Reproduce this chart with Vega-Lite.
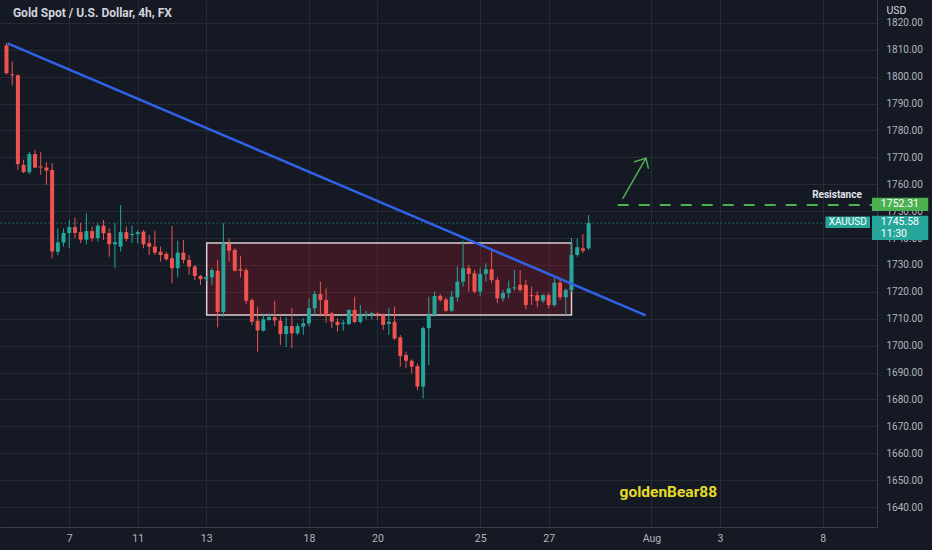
{
  "$schema": "https://vega.github.io/schema/vega-lite/v6.json",
  "width": 877,
  "height": 527,
  "autosize": {"type": "none"},
  "padding": {"left": 0, "top": 0, "right": 55, "bottom": 23},
  "background": "#151924",
  "datasets": {
    "candles": [
      {"x":0,"o":1811.6,"h":1812.5,"l":1800.8,"c":1801.3},
      {"x":1,"o":1800.9,"h":1805.6,"l":1796.7,"c":1800.5},
      {"x":2,"o":1800.5,"h":1800.8,"l":1765.3,"c":1767.5},
      {"x":3,"o":1767.2,"h":1769.1,"l":1764.1,"c":1764.5},
      {"x":4,"o":1764.5,"h":1772.0,"l":1763.8,"c":1771.2},
      {"x":5,"o":1771.2,"h":1772.8,"l":1766.0,"c":1766.2},
      {"x":6,"o":1766.6,"h":1771.9,"l":1763.5,"c":1766.2},
      {"x":7,"o":1766.2,"h":1768.2,"l":1759.8,"c":1765.1},
      {"x":8,"o":1765.3,"h":1767.8,"l":1732.5,"c":1735.0},
      {"x":9,"o":1734.9,"h":1743.6,"l":1733.7,"c":1738.4},
      {"x":10,"o":1738.4,"h":1743.6,"l":1736.8,"c":1741.9},
      {"x":11,"o":1741.9,"h":1746.7,"l":1736.2,"c":1744.1},
      {"x":12,"o":1744.1,"h":1747.6,"l":1740.0,"c":1741.9},
      {"x":13,"o":1742.2,"h":1745.7,"l":1738.1,"c":1739.4},
      {"x":14,"o":1739.4,"h":1749.2,"l":1737.7,"c":1742.6},
      {"x":15,"o":1742.6,"h":1744.3,"l":1738.7,"c":1740.0},
      {"x":16,"o":1740.0,"h":1745.5,"l":1738.7,"c":1744.6},
      {"x":17,"o":1744.6,"h":1746.7,"l":1739.3,"c":1741.8},
      {"x":18,"o":1741.9,"h":1743.6,"l":1733.1,"c":1737.7},
      {"x":19,"o":1737.7,"h":1745.5,"l":1728.8,"c":1738.5},
      {"x":20,"o":1736.8,"h":1752.3,"l":1735.0,"c":1742.2},
      {"x":21,"o":1742.2,"h":1744.3,"l":1738.7,"c":1739.7},
      {"x":22,"o":1741.1,"h":1744.6,"l":1738.1,"c":1741.5},
      {"x":23,"o":1741.5,"h":1743.0,"l":1738.1,"c":1742.2},
      {"x":24,"o":1742.4,"h":1743.0,"l":1736.2,"c":1737.7},
      {"x":25,"o":1738.1,"h":1741.1,"l":1733.7,"c":1736.8},
      {"x":26,"o":1736.8,"h":1742.8,"l":1733.7,"c":1734.6},
      {"x":27,"o":1734.9,"h":1736.8,"l":1731.2,"c":1733.7},
      {"x":28,"o":1734.1,"h":1734.9,"l":1731.6,"c":1732.1},
      {"x":29,"o":1732.5,"h":1744.5,"l":1723.2,"c":1728.8},
      {"x":30,"o":1728.8,"h":1739.0,"l":1725.4,"c":1734.6},
      {"x":31,"o":1734.6,"h":1739.3,"l":1730.6,"c":1731.9},
      {"x":32,"o":1731.9,"h":1733.7,"l":1726.3,"c":1729.4},
      {"x":33,"o":1729.4,"h":1730.0,"l":1724.4,"c":1725.9},
      {"x":34,"o":1725.9,"h":1726.3,"l":1722.6,"c":1724.7},
      {"x":35,"o":1724.7,"h":1725.9,"l":1723.8,"c":1725.5},
      {"x":36,"o":1725.4,"h":1728.8,"l":1722.6,"c":1728.1},
      {"x":37,"o":1727.9,"h":1731.9,"l":1706.8,"c":1712.5},
      {"x":38,"o":1712.5,"h":1745.5,"l":1710.8,"c":1738.1},
      {"x":39,"o":1737.8,"h":1739.9,"l":1731.2,"c":1735.3},
      {"x":40,"o":1735.6,"h":1736.2,"l":1727.5,"c":1727.9},
      {"x":41,"o":1728.4,"h":1733.4,"l":1725.4,"c":1727.9},
      {"x":42,"o":1728.1,"h":1728.8,"l":1715.5,"c":1716.7},
      {"x":43,"o":1716.9,"h":1717.6,"l":1707.7,"c":1708.9},
      {"x":44,"o":1709.3,"h":1714.5,"l":1697.8,"c":1705.6},
      {"x":45,"o":1705.6,"h":1712.0,"l":1705.2,"c":1709.8},
      {"x":46,"o":1709.6,"h":1712.0,"l":1709.3,"c":1710.6},
      {"x":47,"o":1710.6,"h":1716.7,"l":1707.3,"c":1709.4},
      {"x":48,"o":1709.3,"h":1710.8,"l":1700.3,"c":1704.3},
      {"x":49,"o":1704.3,"h":1710.6,"l":1699.6,"c":1707.3},
      {"x":50,"o":1707.3,"h":1713.9,"l":1699.0,"c":1704.6},
      {"x":51,"o":1704.6,"h":1708.3,"l":1704.0,"c":1707.3},
      {"x":52,"o":1707.1,"h":1710.2,"l":1704.0,"c":1708.3},
      {"x":53,"o":1708.3,"h":1717.6,"l":1707.1,"c":1713.9},
      {"x":54,"o":1713.9,"h":1720.4,"l":1711.4,"c":1719.2},
      {"x":55,"o":1719.2,"h":1723.8,"l":1710.8,"c":1717.0},
      {"x":56,"o":1717.0,"h":1721.3,"l":1708.5,"c":1711.4},
      {"x":57,"o":1712.0,"h":1712.6,"l":1706.5,"c":1708.9},
      {"x":58,"o":1708.9,"h":1710.2,"l":1705.2,"c":1707.7},
      {"x":59,"o":1708.1,"h":1709.6,"l":1705.6,"c":1708.5},
      {"x":60,"o":1708.1,"h":1713.5,"l":1707.6,"c":1713.3},
      {"x":61,"o":1713.3,"h":1718.2,"l":1708.3,"c":1708.8},
      {"x":62,"o":1708.8,"h":1715.1,"l":1708.3,"c":1711.4},
      {"x":63,"o":1711.4,"h":1713.0,"l":1709.8,"c":1711.9},
      {"x":64,"o":1711.6,"h":1712.6,"l":1709.8,"c":1712.1},
      {"x":65,"o":1712.0,"h":1712.3,"l":1709.6,"c":1711.6},
      {"x":66,"o":1711.4,"h":1712.0,"l":1705.8,"c":1707.7},
      {"x":67,"o":1708.1,"h":1713.9,"l":1704.0,"c":1708.9},
      {"x":68,"o":1708.9,"h":1714.5,"l":1702.1,"c":1702.7},
      {"x":69,"o":1703.1,"h":1704.0,"l":1692.2,"c":1696.2},
      {"x":70,"o":1696.5,"h":1697.8,"l":1691.6,"c":1694.4},
      {"x":71,"o":1694.4,"h":1694.9,"l":1689.7,"c":1692.2},
      {"x":72,"o":1692.4,"h":1693.4,"l":1683.5,"c":1684.8},
      {"x":73,"o":1684.8,"h":1707.1,"l":1680.4,"c":1706.5},
      {"x":74,"o":1706.5,"h":1718.2,"l":1692.8,"c":1711.4},
      {"x":75,"o":1711.4,"h":1720.1,"l":1710.8,"c":1718.5},
      {"x":76,"o":1718.5,"h":1719.2,"l":1716.4,"c":1717.0},
      {"x":77,"o":1717.2,"h":1718.0,"l":1712.6,"c":1713.0},
      {"x":78,"o":1713.0,"h":1720.4,"l":1712.6,"c":1718.2},
      {"x":79,"o":1718.0,"h":1729.4,"l":1716.4,"c":1723.8},
      {"x":80,"o":1723.8,"h":1739.0,"l":1721.9,"c":1728.8},
      {"x":81,"o":1728.8,"h":1730.0,"l":1720.1,"c":1726.7},
      {"x":82,"o":1726.9,"h":1728.1,"l":1719.5,"c":1720.1},
      {"x":83,"o":1720.1,"h":1728.8,"l":1718.5,"c":1726.7},
      {"x":84,"o":1726.7,"h":1730.6,"l":1723.8,"c":1728.4},
      {"x":85,"o":1728.4,"h":1736.2,"l":1723.2,"c":1724.4},
      {"x":86,"o":1724.4,"h":1725.4,"l":1715.8,"c":1717.6},
      {"x":87,"o":1717.6,"h":1720.7,"l":1716.4,"c":1719.5},
      {"x":88,"o":1719.5,"h":1724.2,"l":1717.6,"c":1721.3},
      {"x":89,"o":1721.3,"h":1728.1,"l":1720.4,"c":1721.7},
      {"x":90,"o":1722.6,"h":1728.1,"l":1720.1,"c":1720.7},
      {"x":91,"o":1722.6,"h":1724.4,"l":1713.5,"c":1715.1},
      {"x":92,"o":1718.8,"h":1721.9,"l":1715.1,"c":1718.4},
      {"x":93,"o":1718.8,"h":1720.1,"l":1714.3,"c":1716.7},
      {"x":94,"o":1716.7,"h":1719.2,"l":1715.8,"c":1718.8},
      {"x":95,"o":1718.8,"h":1719.5,"l":1713.9,"c":1715.1},
      {"x":96,"o":1715.1,"h":1725.1,"l":1714.5,"c":1723.4},
      {"x":97,"o":1723.4,"h":1724.4,"l":1717.0,"c":1718.0},
      {"x":98,"o":1718.0,"h":1721.3,"l":1711.4,"c":1720.7},
      {"x":99,"o":1720.7,"h":1740.0,"l":1720.0,"c":1733.7},
      {"x":100,"o":1733.7,"h":1739.9,"l":1733.1,"c":1736.6},
      {"x":101,"o":1736.2,"h":1741.5,"l":1734.4,"c":1735.3},
      {"x":102,"o":1736.2,"h":1748.6,"l":1735.6,"c":1745.58}
    ],
    "zone": [{"x": 35.08, "x2": 99.0, "y": 1711.4, "y2": 1738.2}],
    "trend": [{"x": 0.2, "y": 1812.4}, {"x": 111.99, "y": 1711.3}],
    "price": [{"x": -1, "x2": 143.5, "y": 1745.58}],
    "resistance": [{"x": 107.1, "x2": 151.65, "y": 1752.31}],
    "arrow": [
      {"x": 108.0, "y": 1754.8, "x2": 112.04, "y2": 1769.7},
      {"x": 110.03, "y": 1768.4, "x2": 112.04, "y2": 1769.7},
      {"x": 112.46, "y": 1766.0, "x2": 112.04, "y2": 1769.7}
    ],
    "boxes": [
      {"x": 151.65, "x2": 161.5, "y": 1755.0, "y2": 1750.1, "kind": "res"},
      {"x": 151.65, "x2": 161.5, "y": 1748.3, "y2": 1739.3, "kind": "cur"},
      {"x": 143.5, "x2": 151.3, "y": 1748.0, "y2": 1743.7, "kind": "cur"}
    ],
    "boxtext": [
      {"x": 153.2, "y": 1752.5, "t": "1752.31"},
      {"x": 153.2, "y": 1745.9, "t": "1745.58"},
      {"x": 153.2, "y": 1741.5, "t": "11:30"}
    ],
    "sym": [{"x": 147.4, "y": 1745.8, "t": "XAUUSD"}],
    "restext": [{"x": 149.87, "y": 1756.0, "t": "Resistance"}],
    "author": [{"x": 115.97, "y": 1645.6, "t": "goldenBear88"}],
    "heading": [{"x": 1.13, "y": 1823.7, "t": "Gold Spot / U.S. Dollar, 4h, FX"}]
  },
  "layer": [
    {
      "data": {"name": "zone"},
      "mark": {"type": "rect", "fill": "#b71c2c", "fillOpacity": 0.25, "stroke": "#d9cdd0", "strokeWidth": 1.5},
      "encoding": {
        "x": {
          "field": "x", "type": "quantitative",
          "scale": {"domain": [-0.26, 151.65], "nice": false, "zero": false},
          "axis": {
            "orient": "bottom",
            "title": null,
            "values": [11, 23, 35, 53, 65, 83, 95, 113, 125, 143],
            "labelExpr": "['7','11','13','18','20','25','27','Aug','3','8'][indexof([11,23,35,53,65,83,95,113,125,143], datum.value)]",
            "grid": true,
            "gridColor": "#262a36",
            "ticks": false,
            "domainColor": "#3a3e4a",
            "labelColor": "#b2b5be",
            "labelFont": "Roboto",
            "labelFontSize": 10.5,
            "labelPadding": 6,
            "labelOverlap": false,
            "labelFlush": false
          }
        },
        "x2": {"field": "x2"},
        "y": {
          "field": "y", "type": "quantitative",
          "scale": {"domain": [1632.6, 1828.5], "nice": false, "zero": false},
          "axis": {
            "orient": "right",
            "values": [1640, 1650, 1660, 1670, 1680, 1690, 1700, 1710, 1720, 1730, 1740, 1750, 1760, 1770, 1780, 1790, 1800, 1810, 1820],
            "tickCount": 20,
            "format": ".2f",
            "grid": true,
            "gridColor": "#262a36",
            "ticks": false,
            "domainColor": "#3a3e4a",
            "labelColor": "#b2b5be",
            "labelFont": "Roboto",
            "labelFontSize": 10,
            "labelPadding": 9,
            "labelOverlap": false,
            "labelSeparation": 0,
            "labelFlush": false,
            "title": "USD",
            "titleAngle": 0,
            "titleAlign": "left",
            "titleBaseline": "middle",
            "titleX": 9,
            "titleY": 10,
            "titleColor": "#d1d4dc",
            "titleFont": "Roboto",
            "titleFontSize": 10.5,
            "titleFontWeight": "normal"
          }
        },
        "y2": {"field": "y2"}
      }
    },
    {
      "data": {"name": "price"},
      "mark": {"type": "rule", "color": "#26a69a", "strokeWidth": 1, "strokeDash": [1, 3]},
      "encoding": {
        "x": {"field": "x", "type": "quantitative", "scale": {"domain": [-0.26, 151.65], "nice": false, "zero": false}},
        "x2": {"field": "x2"},
        "y": {"field": "y", "type": "quantitative", "axis": {"orient": "right"}, "scale": {"domain": [1632.6, 1828.5], "nice": false, "zero": false}}
      }
    },
    {
      "data": {"name": "candles"},
      "mark": {"type": "rule", "strokeWidth": 1},
      "encoding": {
        "x": {"field": "x", "type": "quantitative", "scale": {"domain": [-0.26, 151.65], "nice": false, "zero": false}},
        "y": {"field": "l", "type": "quantitative", "axis": {"orient": "right"}, "scale": {"domain": [1632.6, 1828.5], "nice": false, "zero": false}},
        "y2": {"field": "h"},
        "color": {"condition": {"test": "datum.c >= datum.o", "value": "#26a69a"}, "value": "#ef5350"}
      }
    },
    {
      "data": {"name": "candles"},
      "mark": {"type": "bar", "size": 4},
      "encoding": {
        "x": {"field": "x", "type": "quantitative", "scale": {"domain": [-0.26, 151.65], "nice": false, "zero": false}},
        "y": {"field": "o", "type": "quantitative", "axis": {"orient": "right"}, "scale": {"domain": [1632.6, 1828.5], "nice": false, "zero": false}},
        "y2": {"field": "c"},
        "color": {"condition": {"test": "datum.c >= datum.o", "value": "#26a69a"}, "value": "#ef5350"}
      }
    },
    {
      "data": {"name": "trend"},
      "mark": {"type": "line", "color": "#2f62e8", "strokeWidth": 2.5},
      "encoding": {
        "x": {"field": "x", "type": "quantitative", "scale": {"domain": [-0.26, 151.65], "nice": false, "zero": false}},
        "y": {"field": "y", "type": "quantitative", "axis": {"orient": "right"}, "scale": {"domain": [1632.6, 1828.5], "nice": false, "zero": false}}
      }
    },
    {
      "data": {"name": "resistance"},
      "mark": {"type": "rule", "color": "#4caf50", "strokeWidth": 2, "strokeDash": [11, 10]},
      "encoding": {
        "x": {"field": "x", "type": "quantitative", "scale": {"domain": [-0.26, 151.65], "nice": false, "zero": false}},
        "x2": {"field": "x2"},
        "y": {"field": "y", "type": "quantitative", "axis": {"orient": "right"}, "scale": {"domain": [1632.6, 1828.5], "nice": false, "zero": false}}
      }
    },
    {
      "data": {"name": "arrow"},
      "mark": {"type": "rule", "color": "#4caf50", "strokeWidth": 1.5, "strokeCap": "round"},
      "encoding": {
        "x": {"field": "x", "type": "quantitative", "scale": {"domain": [-0.26, 151.65], "nice": false, "zero": false}},
        "x2": {"field": "x2"},
        "y": {"field": "y", "type": "quantitative", "axis": {"orient": "right"}, "scale": {"domain": [1632.6, 1828.5], "nice": false, "zero": false}},
        "y2": {"field": "y2"}
      }
    },
    {
      "data": {"name": "restext"},
      "mark": {"type": "text", "align": "right", "baseline": "middle", "font": "Roboto", "fontSize": 10, "fontWeight": "bold", "color": "#e0e3eb"},
      "encoding": {
        "x": {"field": "x", "type": "quantitative", "scale": {"domain": [-0.26, 151.65], "nice": false, "zero": false}},
        "y": {"field": "y", "type": "quantitative", "axis": {"orient": "right"}, "scale": {"domain": [1632.6, 1828.5], "nice": false, "zero": false}},
        "text": {"field": "t"}
      }
    },
    {
      "data": {"name": "heading"},
      "mark": {"type": "text", "align": "left", "baseline": "middle", "font": "Roboto", "fontSize": 12, "fontWeight": "bold", "color": "#d1d4dc"},
      "encoding": {
        "x": {"field": "x", "type": "quantitative", "scale": {"domain": [-0.26, 151.65], "nice": false, "zero": false}},
        "y": {"field": "y", "type": "quantitative", "axis": {"orient": "right"}, "scale": {"domain": [1632.6, 1828.5], "nice": false, "zero": false}},
        "text": {"field": "t"}
      }
    },
    {
      "data": {"name": "author"},
      "mark": {"type": "text", "align": "center", "baseline": "middle", "font": "Roboto", "fontSize": 15.5, "fontWeight": "bold", "color": "#e6dc28"},
      "encoding": {
        "x": {"field": "x", "type": "quantitative", "scale": {"domain": [-0.26, 151.65], "nice": false, "zero": false}},
        "y": {"field": "y", "type": "quantitative", "axis": {"orient": "right"}, "scale": {"domain": [1632.6, 1828.5], "nice": false, "zero": false}},
        "text": {"field": "t"}
      }
    },
    {
      "data": {"name": "boxes"},
      "mark": {"type": "rect", "clip": false},
      "encoding": {
        "x": {"field": "x", "type": "quantitative", "scale": {"domain": [-0.26, 151.65], "nice": false, "zero": false}},
        "x2": {"field": "x2"},
        "y": {"field": "y", "type": "quantitative", "axis": {"orient": "right"}, "scale": {"domain": [1632.6, 1828.5], "nice": false, "zero": false}},
        "y2": {"field": "y2"},
        "color": {"condition": {"test": "datum.kind === 'res'", "value": "#4caf50"}, "value": "#26a69a"}
      }
    },
    {
      "data": {"name": "boxtext"},
      "mark": {"type": "text", "align": "left", "baseline": "middle", "font": "Roboto", "fontSize": 10.5, "color": "#ffffff"},
      "encoding": {
        "x": {"field": "x", "type": "quantitative", "scale": {"domain": [-0.26, 151.65], "nice": false, "zero": false}},
        "y": {"field": "y", "type": "quantitative", "axis": {"orient": "right"}, "scale": {"domain": [1632.6, 1828.5], "nice": false, "zero": false}},
        "text": {"field": "t"}
      }
    },
    {
      "data": {"name": "sym"},
      "mark": {"type": "text", "align": "center", "baseline": "middle", "font": "Roboto", "fontSize": 10, "color": "#ffffff"},
      "encoding": {
        "x": {"field": "x", "type": "quantitative", "scale": {"domain": [-0.26, 151.65], "nice": false, "zero": false}},
        "y": {"field": "y", "type": "quantitative", "axis": {"orient": "right"}, "scale": {"domain": [1632.6, 1828.5], "nice": false, "zero": false}},
        "text": {"field": "t"}
      }
    }
  ],
  "config": {
    "view": {"stroke": null},
    "axis": {"domainWidth": 1}
  }
}
